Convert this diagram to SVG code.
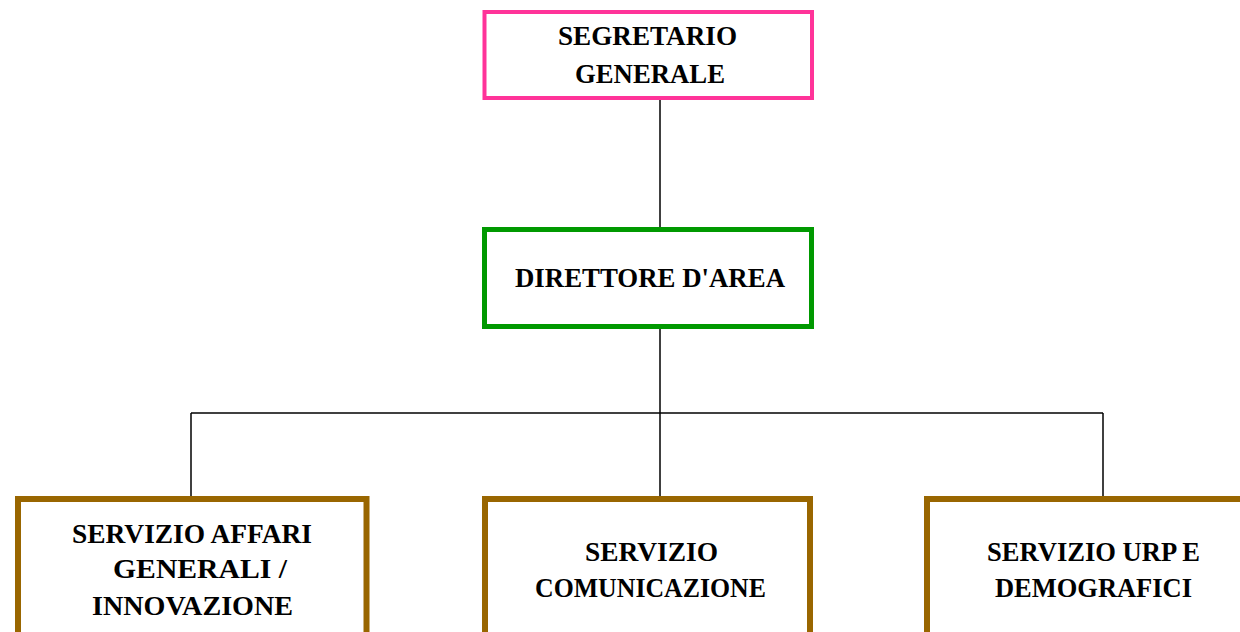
<svg xmlns="http://www.w3.org/2000/svg" width="1240" height="632" viewBox="0 0 1240 632">
<style>
.box{fill:#ffffff}
.lbl{font-family:"Liberation Serif","Times New Roman",serif;font-weight:bold;font-size:28px;fill:#000000;text-anchor:start}
.conn{stroke:#000000;stroke-width:1.5;fill:none}
</style>
<rect width="1240" height="632" fill="#ffffff"/>
<g id="connectors">
<line class="conn" x1="660" y1="99" x2="660" y2="229"/>
<line class="conn" x1="660" y1="327" x2="660" y2="497"/>
<line class="conn" x1="191" y1="413" x2="1103" y2="413"/>
<line class="conn" x1="191" y1="413" x2="191" y2="497"/>
<line class="conn" x1="1103" y1="413" x2="1103" y2="497"/>
</g>
<g id="segretario">
<rect class="box" x="484.5" y="12" width="327.5" height="86" stroke="#ff3399" stroke-width="4"/>
<text class="lbl" x="558" y="45" textLength="179" lengthAdjust="spacingAndGlyphs">SEGRETARIO</text>
<text class="lbl" x="575" y="83" textLength="150" lengthAdjust="spacingAndGlyphs">GENERALE</text>
</g>
<g id="direttore">
<rect class="box" x="484.5" y="229.5" width="327" height="97" stroke="#009900" stroke-width="5"/>
<text class="lbl" x="515" y="287" textLength="270" lengthAdjust="spacingAndGlyphs">DIRETTORE D'AREA</text>
</g>
<g id="affari">
<rect class="box" x="18" y="499" width="348.5" height="150" stroke="#996600" stroke-width="6"/>
<text class="lbl" x="72" y="543" textLength="240" lengthAdjust="spacingAndGlyphs">SERVIZIO AFFARI</text>
<text class="lbl" x="113" y="578" textLength="174" lengthAdjust="spacingAndGlyphs">GENERALI /</text>
<text class="lbl" x="92" y="615" textLength="201" lengthAdjust="spacingAndGlyphs">INNOVAZIONE</text>
</g>
<g id="comunicazione">
<rect class="box" x="485" y="499" width="325" height="150" stroke="#996600" stroke-width="6"/>
<text class="lbl" x="585" y="561" textLength="133" lengthAdjust="spacingAndGlyphs">SERVIZIO</text>
<text class="lbl" x="535" y="597" textLength="231" lengthAdjust="spacingAndGlyphs">COMUNICAZIONE</text>
</g>
<g id="urp">
<rect class="box" x="927" y="499" width="330" height="150" stroke="#996600" stroke-width="6"/>
<text class="lbl" x="987" y="561" textLength="213" lengthAdjust="spacingAndGlyphs">SERVIZIO URP E</text>
<text class="lbl" x="995" y="597" textLength="197" lengthAdjust="spacingAndGlyphs">DEMOGRAFICI</text>
</g>
</svg>
